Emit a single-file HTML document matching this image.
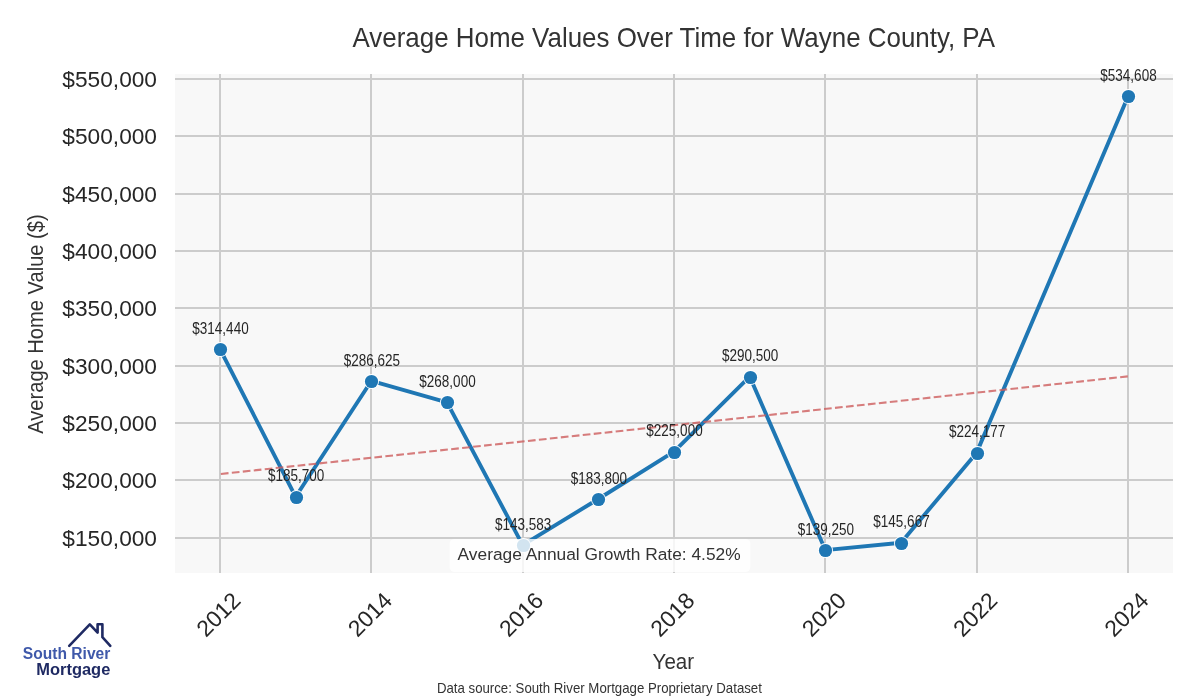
<!DOCTYPE html>
<html><head><meta charset="utf-8"><style>
html,body{margin:0;padding:0;background:#ffffff;width:1200px;height:700px;overflow:hidden}
svg{display:block;will-change:transform}
text{font-family:"Liberation Sans",sans-serif}
</style></head><body>
<svg width="1200" height="700" viewBox="0 0 1200 700">
<rect x="0" y="0" width="1200" height="700" fill="#ffffff"/>
<rect x="175" y="74" width="998" height="499" fill="#f8f8f8"/>
<rect x="219" y="74" width="2" height="499" fill="#cccccc"/>
<rect x="370" y="74" width="2" height="499" fill="#cccccc"/>
<rect x="522" y="74" width="2" height="499" fill="#cccccc"/>
<rect x="673" y="74" width="2" height="499" fill="#cccccc"/>
<rect x="824" y="74" width="2" height="499" fill="#cccccc"/>
<rect x="976" y="74" width="2" height="499" fill="#cccccc"/>
<rect x="1127" y="74" width="2" height="499" fill="#cccccc"/>
<rect x="175" y="537" width="998" height="2" fill="#cccccc"/>
<rect x="175" y="479" width="998" height="2" fill="#cccccc"/>
<rect x="175" y="422" width="998" height="2" fill="#cccccc"/>
<rect x="175" y="365" width="998" height="2" fill="#cccccc"/>
<rect x="175" y="307" width="998" height="2" fill="#cccccc"/>
<rect x="175" y="250" width="998" height="2" fill="#cccccc"/>
<rect x="175" y="193" width="998" height="2" fill="#cccccc"/>
<rect x="175" y="135" width="998" height="2" fill="#cccccc"/>
<rect x="175" y="78" width="998" height="2" fill="#cccccc"/>
<text x="157" y="545.85" font-size="22.7" text-anchor="end" fill="#262626">$150,000</text>
<text x="157" y="488.48" font-size="22.7" text-anchor="end" fill="#262626">$200,000</text>
<text x="157" y="431.10" font-size="22.7" text-anchor="end" fill="#262626">$250,000</text>
<text x="157" y="373.73" font-size="22.7" text-anchor="end" fill="#262626">$300,000</text>
<text x="157" y="316.35" font-size="22.7" text-anchor="end" fill="#262626">$350,000</text>
<text x="157" y="258.98" font-size="22.7" text-anchor="end" fill="#262626">$400,000</text>
<text x="157" y="201.60" font-size="22.7" text-anchor="end" fill="#262626">$450,000</text>
<text x="157" y="144.23" font-size="22.7" text-anchor="end" fill="#262626">$500,000</text>
<text x="157" y="86.85" font-size="22.7" text-anchor="end" fill="#262626">$550,000</text>
<text transform="translate(218.40,614.30) rotate(-45)" x="0" y="8.01" font-size="22.9" text-anchor="middle" fill="#262626">2012</text>
<text transform="translate(369.73,614.30) rotate(-45)" x="0" y="8.01" font-size="22.9" text-anchor="middle" fill="#262626">2014</text>
<text transform="translate(521.07,614.30) rotate(-45)" x="0" y="8.01" font-size="22.9" text-anchor="middle" fill="#262626">2016</text>
<text transform="translate(672.40,614.30) rotate(-45)" x="0" y="8.01" font-size="22.9" text-anchor="middle" fill="#262626">2018</text>
<text transform="translate(823.73,614.30) rotate(-45)" x="0" y="8.01" font-size="22.9" text-anchor="middle" fill="#262626">2020</text>
<text transform="translate(975.07,614.30) rotate(-45)" x="0" y="8.01" font-size="22.9" text-anchor="middle" fill="#262626">2022</text>
<text transform="translate(1126.40,614.30) rotate(-45)" x="0" y="8.01" font-size="22.9" text-anchor="middle" fill="#262626">2024</text>
<polyline points="220.00,349.06 295.67,496.79 371.33,380.97 447.00,402.35 522.67,545.11 598.33,498.97 674.00,451.69 749.67,376.53 825.33,550.09 901.00,542.72 976.67,452.63 1128.00,96.41" fill="none" stroke="#1f77b4" stroke-width="3.9" stroke-linejoin="round" stroke-linecap="butt"/>
<circle cx="220.50" cy="349.50" r="7.5" fill="#ffffff"/><circle cx="220.50" cy="349.50" r="6.6" fill="#1f77b4"/>
<circle cx="296.50" cy="497.50" r="7.5" fill="#ffffff"/><circle cx="296.50" cy="497.50" r="6.6" fill="#1f77b4"/>
<circle cx="371.50" cy="381.50" r="7.5" fill="#ffffff"/><circle cx="371.50" cy="381.50" r="6.6" fill="#1f77b4"/>
<circle cx="447.50" cy="402.50" r="7.5" fill="#ffffff"/><circle cx="447.50" cy="402.50" r="6.6" fill="#1f77b4"/>
<circle cx="523.50" cy="545.50" r="7.5" fill="#ffffff"/><circle cx="523.50" cy="545.50" r="6.6" fill="#1f77b4"/>
<circle cx="598.50" cy="499.50" r="7.5" fill="#ffffff"/><circle cx="598.50" cy="499.50" r="6.6" fill="#1f77b4"/>
<circle cx="674.50" cy="452.50" r="7.5" fill="#ffffff"/><circle cx="674.50" cy="452.50" r="6.6" fill="#1f77b4"/>
<circle cx="750.50" cy="377.50" r="7.5" fill="#ffffff"/><circle cx="750.50" cy="377.50" r="6.6" fill="#1f77b4"/>
<circle cx="825.50" cy="550.50" r="7.5" fill="#ffffff"/><circle cx="825.50" cy="550.50" r="6.6" fill="#1f77b4"/>
<circle cx="901.50" cy="543.50" r="7.5" fill="#ffffff"/><circle cx="901.50" cy="543.50" r="6.6" fill="#1f77b4"/>
<circle cx="977.50" cy="453.50" r="7.5" fill="#ffffff"/><circle cx="977.50" cy="453.50" r="6.6" fill="#1f77b4"/>
<circle cx="1128.50" cy="96.50" r="7.5" fill="#ffffff"/><circle cx="1128.50" cy="96.50" r="6.6" fill="#1f77b4"/>
<line x1="220.00" y1="474.07" x2="1128.00" y2="376.36" stroke="#cd5c5c" stroke-opacity="0.8" stroke-width="2.08" stroke-dasharray="7.7 3.33" stroke-dashoffset="-0.86"/>
<text x="220.50" y="333.66" font-size="15.9" text-anchor="middle" textLength="56.3" lengthAdjust="spacingAndGlyphs" fill="#262626">$314,440</text>
<text x="296.17" y="481.39" font-size="15.9" text-anchor="middle" textLength="56.3" lengthAdjust="spacingAndGlyphs" fill="#262626">$185,700</text>
<text x="371.83" y="365.57" font-size="15.9" text-anchor="middle" textLength="56.3" lengthAdjust="spacingAndGlyphs" fill="#262626">$286,625</text>
<text x="447.50" y="386.95" font-size="15.9" text-anchor="middle" textLength="56.3" lengthAdjust="spacingAndGlyphs" fill="#262626">$268,000</text>
<text x="523.17" y="529.71" font-size="15.9" text-anchor="middle" textLength="56.3" lengthAdjust="spacingAndGlyphs" fill="#262626">$143,583</text>
<text x="598.83" y="483.57" font-size="15.9" text-anchor="middle" textLength="56.3" lengthAdjust="spacingAndGlyphs" fill="#262626">$183,800</text>
<text x="674.50" y="436.29" font-size="15.9" text-anchor="middle" textLength="56.3" lengthAdjust="spacingAndGlyphs" fill="#262626">$225,000</text>
<text x="750.17" y="361.13" font-size="15.9" text-anchor="middle" textLength="56.3" lengthAdjust="spacingAndGlyphs" fill="#262626">$290,500</text>
<text x="825.83" y="534.69" font-size="15.9" text-anchor="middle" textLength="56.3" lengthAdjust="spacingAndGlyphs" fill="#262626">$139,250</text>
<text x="901.50" y="527.32" font-size="15.9" text-anchor="middle" textLength="56.3" lengthAdjust="spacingAndGlyphs" fill="#262626">$145,667</text>
<text x="977.17" y="437.23" font-size="15.9" text-anchor="middle" textLength="56.3" lengthAdjust="spacingAndGlyphs" fill="#262626">$224,177</text>
<text x="1128.50" y="81.01" font-size="15.9" text-anchor="middle" textLength="56.3" lengthAdjust="spacingAndGlyphs" fill="#262626">$534,608</text>
<rect x="449.6" y="538.9" width="300.8" height="33.2" rx="5" ry="5" fill="#ffffff" fill-opacity="0.8"/>
<text x="457.6" y="559.6" font-size="16.7" textLength="283" lengthAdjust="spacingAndGlyphs" fill="#333333">Average Annual Growth Rate: 4.52%</text>
<text x="352.5" y="47.1" font-size="27.8" textLength="642.5" lengthAdjust="spacingAndGlyphs" fill="#333333">Average Home Values Over Time for Wayne County, PA</text>
<text transform="translate(43.1,433.3) rotate(-90)" x="-0.5" y="0" font-size="22.2" textLength="219.5" lengthAdjust="spacingAndGlyphs" fill="#333333">Average Home Value ($)</text>
<text x="652.6" y="668.9" font-size="22.2" textLength="41.5" lengthAdjust="spacingAndGlyphs" fill="#333333">Year</text>
<text x="436.9" y="692.9" font-size="13.9" textLength="325" lengthAdjust="spacingAndGlyphs" fill="#333333">Data source: South River Mortgage Proprietary Dataset</text>
<polyline points="69.2,645.8 89.8,624.4 97.6,632.6 97.6,624.2 102.4,624.2 102.4,637.2 110.3,645.8" fill="none" stroke="#1f2a63" stroke-width="2.6" stroke-linejoin="round" stroke-linecap="round"/>
<text x="22.8" y="658.5" font-size="16" font-weight="700" textLength="87.5" lengthAdjust="spacingAndGlyphs" fill="#3f59aa">South River</text>
<text x="36.3" y="674.5" font-size="16" font-weight="700" textLength="74" lengthAdjust="spacingAndGlyphs" fill="#1f2a63">Mortgage</text>
</svg>
</body></html>
